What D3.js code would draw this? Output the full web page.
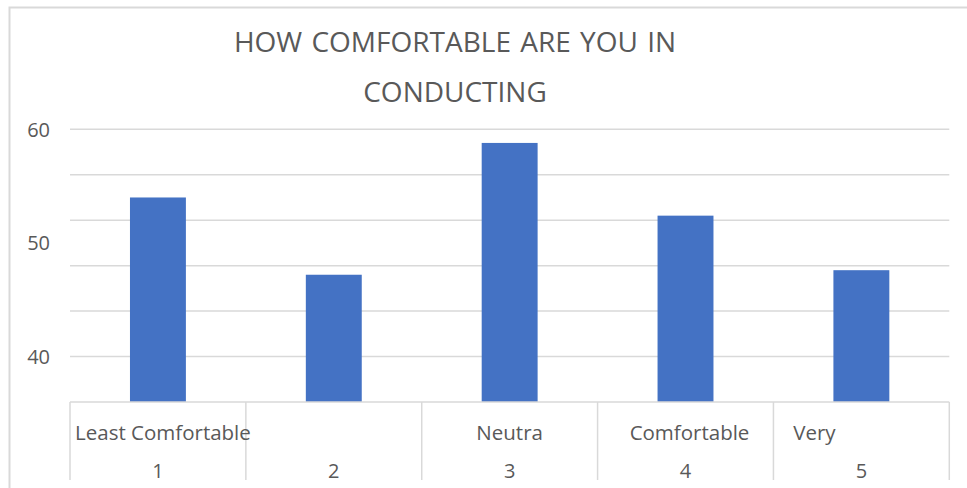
<!DOCTYPE html>
<html>
<head>
<meta charset="utf-8">
<script src="https://cdn.jsdelivr.net/npm/d3@7"></script>
<style>
  html, body { margin: 0; padding: 0; background: #fff; }
  svg { display: block; }
  text { font-family: "Open Sans", "Noto Sans", sans-serif; fill: #595959; }
</style>
</head>
<body>
<svg id="chart" width="967" height="488"></svg>
<script>
// Survey responses: how comfortable respondents are in conducting
const categories = ["1", "2", "3", "4", "5"];
const categoryNames = ["Least Comfortable", "", "Neutra", "Comfortable", "Very"];
const values = [54.0, 47.2, 58.8, 52.4, 47.6];
const yTickLabels = [40, 50, 60];
const gridValues = [40, 44, 48, 52, 56, 60];
const titleLines = ["HOW COMFORTABLE ARE YOU IN", "CONDUCTING"];

const W = 967, H = 488;
const svg = d3.select("#chart");

// chart area frame (top and left edges visible)
svg.append("path")
  .attr("d", "M9.5,488 V7.5 H967")
  .attr("fill", "none")
  .attr("stroke", "#d9d9d9")
  .attr("stroke-width", 2);

const plot = { left: 70, right: 949.3, top: 129.3, bottom: 402 };

const x = d3.scaleBand()
  .domain(categories)
  .range([plot.left, plot.right])
  .paddingInner(0)
  .paddingOuter(0);

const y = d3.scaleLinear()
  .domain([36, 60])
  .range([plot.bottom, plot.top]);

// horizontal gridlines
svg.append("g")
  .selectAll("line")
  .data(gridValues)
  .join("line")
  .attr("x1", plot.left)
  .attr("x2", plot.right)
  .attr("y1", d => y(d))
  .attr("y2", d => y(d))
  .attr("stroke", "#d9d9d9")
  .attr("stroke-width", 1.5);

// value axis labels
svg.append("g")
  .selectAll("text")
  .data(yTickLabels)
  .join("text")
  .attr("x", 50)
  .attr("y", d => y(d))
  .attr("dy", "0.36em")
  .attr("text-anchor", "end")
  .attr("font-size", 20)
  .text(d => d);

// bars
const barWidth = x.bandwidth() * 0.318;
svg.append("g")
  .selectAll("rect")
  .data(values)
  .join("rect")
  .attr("x", (d, i) => x(categories[i]) + x.bandwidth() / 2 - barWidth / 2)
  .attr("width", barWidth)
  .attr("y", d => y(d))
  .attr("height", d => y(36) - y(d))
  .attr("fill", "#4472c4");

// category axis: baseline and band dividers
svg.append("line")
  .attr("x1", plot.left).attr("x2", plot.right)
  .attr("y1", plot.bottom).attr("y2", plot.bottom)
  .attr("stroke", "#d9d9d9").attr("stroke-width", 1.5);

const dividers = categories.map(c => x(c)).concat([plot.right]);
svg.append("g")
  .selectAll("line")
  .data(dividers)
  .join("line")
  .attr("x1", d => d).attr("x2", d => d)
  .attr("y1", plot.bottom).attr("y2", 480)
  .attr("stroke", "#d9d9d9").attr("stroke-width", 1.5);

// outer-level names sit slightly off centre in their cells
const nameShift = [5, 0, 0, 4, -47];
svg.append("g")
  .selectAll("text")
  .data(categoryNames)
  .join("text")
  .attr("x", (d, i) => x(categories[i]) + x.bandwidth() / 2 + nameShift[i])
  .attr("y", 440)
  .attr("text-anchor", "middle")
  .attr("font-size", 20.5)
  .text(d => d);

svg.append("g")
  .selectAll("text")
  .data(categories)
  .join("text")
  .attr("x", d => x(d) + x.bandwidth() / 2)
  .attr("y", 478)
  .attr("text-anchor", "middle")
  .attr("font-size", 20)
  .text(d => d);

// title
svg.append("g")
  .selectAll("text")
  .data(titleLines)
  .join("text")
  .attr("x", 455)
  .attr("y", (d, i) => 52 + i * 49.5)
  .attr("text-anchor", "middle")
  .attr("font-size", 28)
  .attr("word-spacing", 2)
  .text(d => d);
</script>
</body>
</html>
